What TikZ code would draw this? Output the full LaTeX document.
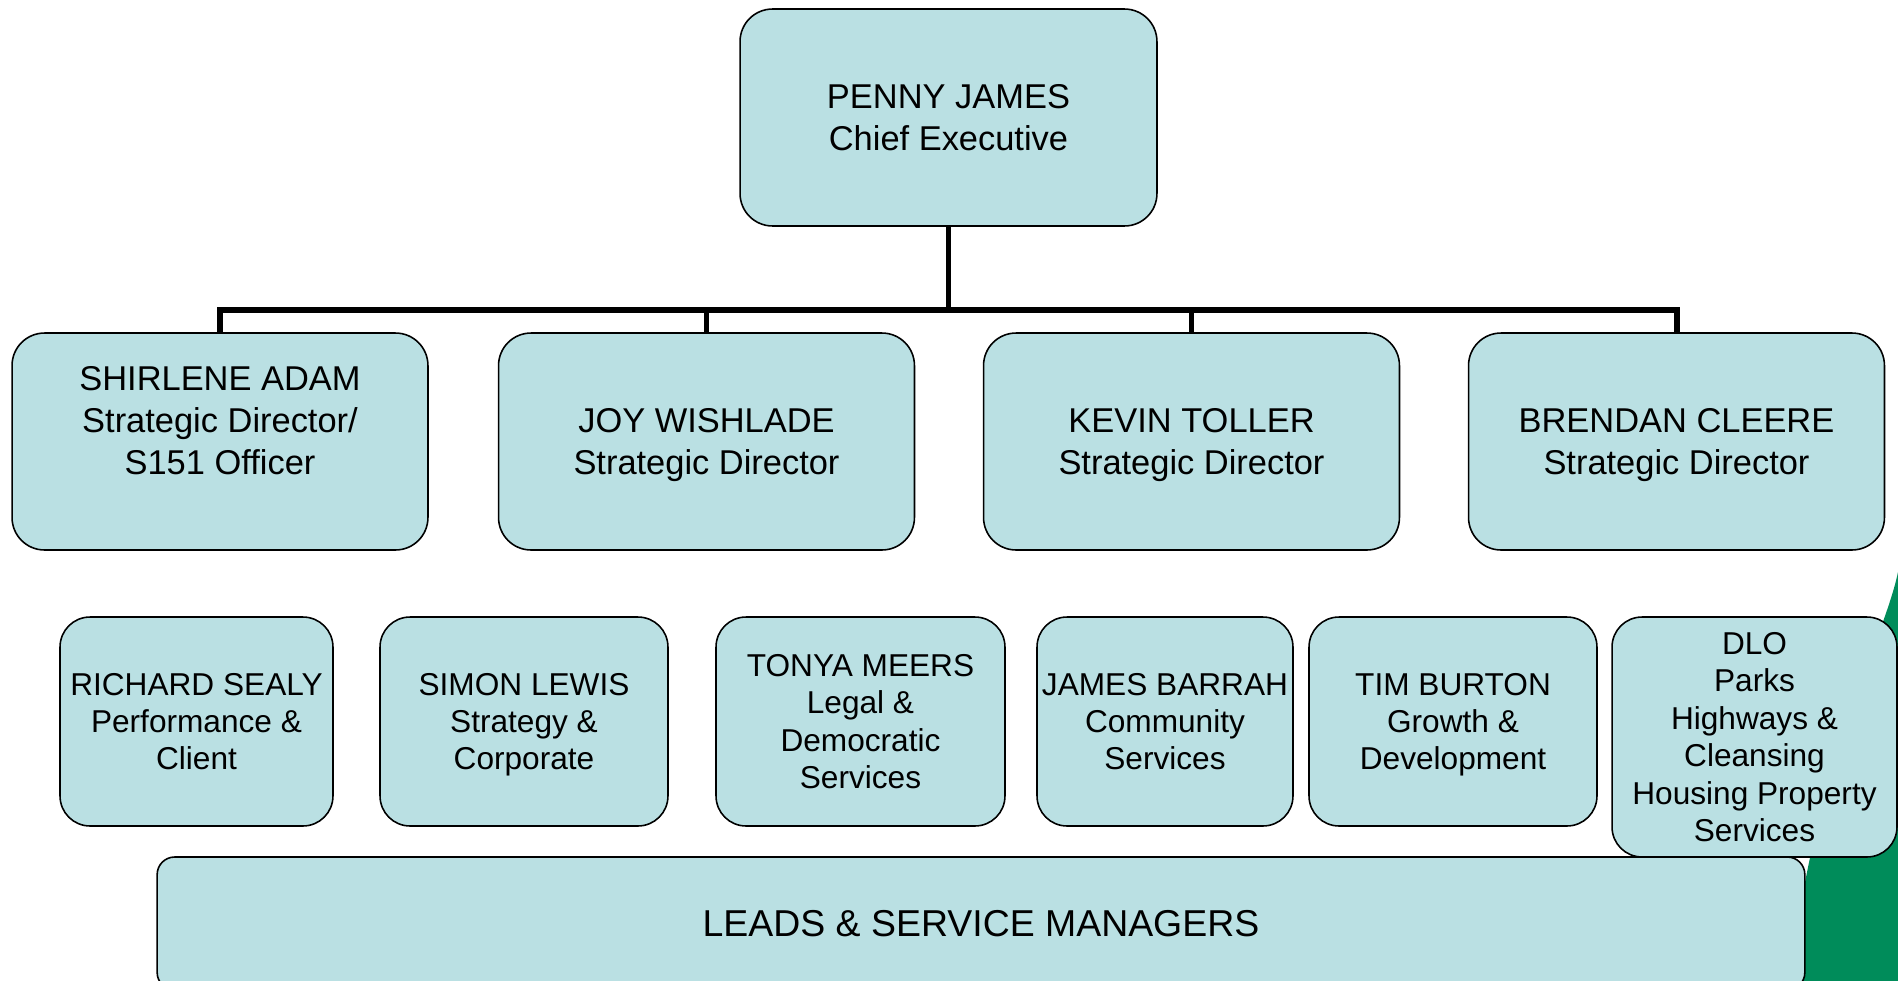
\documentclass[tikz,border=0pt]{standalone}
\usepackage{fontspec}
\setmainfont{Liberation Sans}
\definecolor{boxfill}{RGB}{186,224,227}
\definecolor{swoosh}{RGB}{0,140,90}
\begin{document}
\begin{tikzpicture}[x=0.02cm, y=-0.02cm,
  box/.style={draw, line width=0.9pt, fill=boxfill, rounded corners=0.65cm, align=center, inner sep=1pt,
    text depth=0pt, font=\fontsize{19.6}{24}\selectfont, minimum width=8.32cm, minimum height=4.34cm},
  head/.style={draw, line width=0.9pt, fill=boxfill, rounded corners=0.6cm, align=center, inner sep=1pt,
    text depth=0pt, font=\fontsize{18}{21.3}\selectfont, minimum height=4.18cm},
  link/.style={draw, line width=3.4pt}]
\useasboundingbox (0,0) rectangle (1898,981);

\path[fill=swoosh] (1898,572) .. controls (1884,640) and (1815,760) .. (1790,981) -- (1898,981) -- cycle;

\coordinate (bar) at (948.5,310);

\node[box, minimum width=8.34cm] (ce) at (948.5,117.5) {PENNY JAMES\\Chief Executive};

\node[box] (sd1) at (220,441.5) {SHIRLENE ADAM\\Strategic Director/\\S151 Officer\\~};
\node[box] (sd2) at (706.5,441.5) {JOY WISHLADE\\Strategic Director};
\node[box] (sd3) at (1191.5,441.5) {KEVIN TOLLER\\Strategic Director};
\node[box] (sd4) at (1676.5,441.5) {BRENDAN CLEERE\\Strategic Director};

\node[head, minimum width=5.46cm] (hs1) at (196.5,721.5) {RICHARD SEALY\\Performance \&\\Client};
\node[head, minimum width=5.76cm] (hs2) at (524,721.5) {SIMON LEWIS\\Strategy \&\\Corporate};
\node[head, minimum width=5.78cm] (hs3) at (860.5,721.5) {TONYA MEERS\\Legal \&\\Democratic\\Services};
\node[head, minimum width=5.12cm] (hs4) at (1165,721.5) {JAMES BARRAH\\Community\\Services};
\node[head, minimum width=5.76cm] (hs5) at (1453,721.5) {TIM BURTON\\Growth \&\\Development};
\node[head, minimum width=5.70cm, minimum height=4.80cm] (hs6) at (1754.5,737) {DLO\\Parks\\Highways \&\\Cleansing\\Housing Property\\Services};

\node[head, rounded corners=0.35cm, minimum width=32.96cm, minimum height=2.66cm,
  font=\fontsize{21.3}{25}\selectfont] (leads) at (981,923.5) {LEADS \& SERVICE MANAGERS};

\path[link] (ce.south) -- (bar);
\path[link] (bar) -| (sd1.north);
\path[link] (bar) -| (sd2.north);
\path[link] (bar) -| (sd3.north);
\path[link] (bar) -| (sd4.north);
\end{tikzpicture}
\end{document}
